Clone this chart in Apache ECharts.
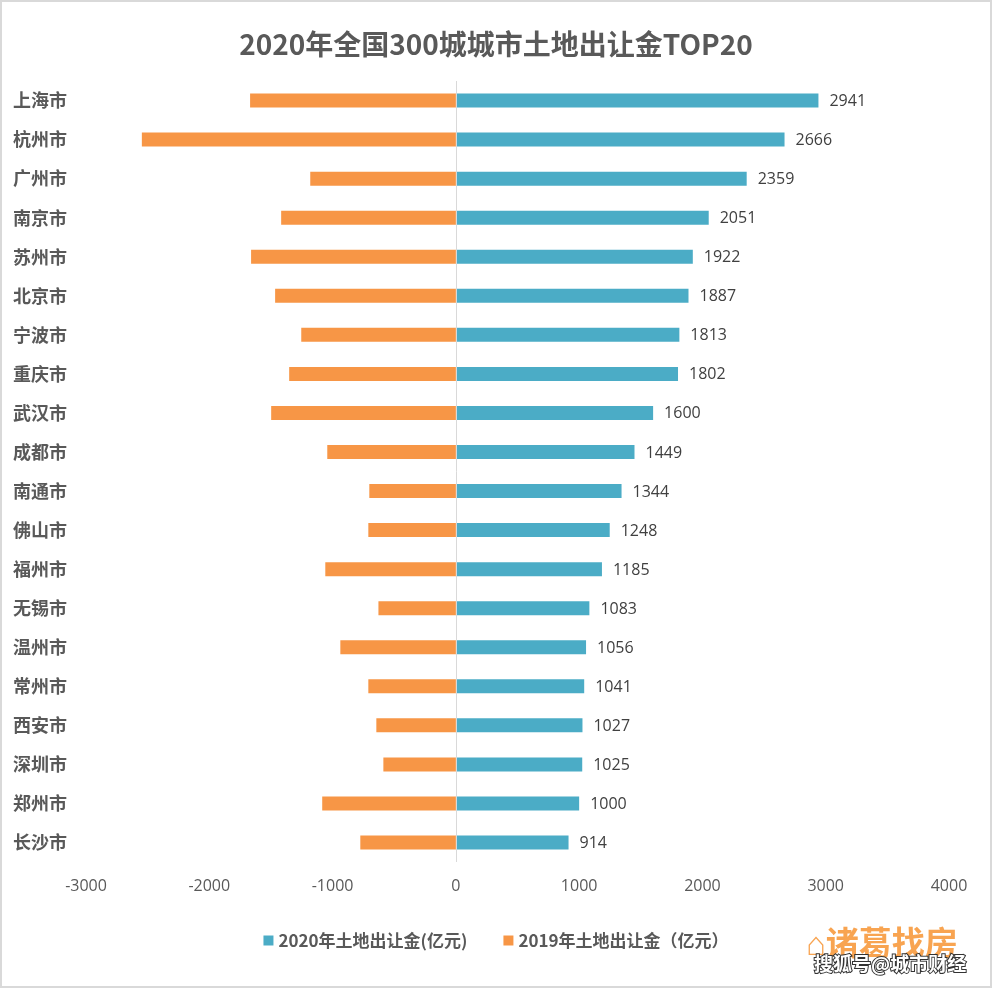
<!DOCTYPE html>
<html>
<head>
<meta charset="utf-8">
<script src="https://cdn.jsdelivr.net/npm/echarts@6/dist/echarts.min.js"></script>
<style>html,body{margin:0;padding:0;background:#fff}#c{width:992px;height:988px}</style>
</head>
<body>
<div id="c"></div>
<script>
var cities = ['上海市','杭州市','广州市','南京市','苏州市','北京市','宁波市','重庆市','武汉市','成都市','南通市','佛山市','福州市','无锡市','温州市','常州市','西安市','深圳市','郑州市','长沙市'];
var values2020 = [2941,2666,2359,2051,1922,1887,1813,1802,1600,1449,1344,1248,1185,1083,1056,1041,1027,1025,1000,914];
var values2019 = [1669,2547,1181,1417,1661,1466,1254,1352,1498,1043,702,710,1059,628,937,710,645,588,1084,775];
var xTicks = [-3000,-2000,-1000,0,1000,2000,3000,4000];
var seriesNames = ['2020年土地出让金(亿元)','2019年土地出让金（亿元）'];

var chart = echarts.init(document.getElementById('c'));
var sansCJK = '"Noto Sans CJK SC", "Open Sans", sans-serif';
chart.setOption({
  backgroundColor: '#fff',
  animation: false,
  title: {
    text: '2020年全国300城城市土地出让金TOP20',
    left: 'center', top: 25,
    textStyle: {fontFamily: sansCJK, fontSize: 28, fontWeight: 'bold', color: '#595959'}
  },
  legend: {
    bottom: 34, left: 'center',
    itemWidth: 10, itemHeight: 10, itemGap: 36,
    icon: 'rect',
    textStyle: {fontFamily: sansCJK, fontSize: 17, color: '#595959', fontWeight: 'bold'},
    data: seriesNames
  },
  grid: {left: 86, right: 43, top: 81, bottom: 126, containLabel: false},
  xAxis: {
    type: 'value', min: xTicks[0], max: xTicks[xTicks.length-1], interval: 1000,
    axisLine: {show: false}, axisTick: {show: false}, splitLine: {show: false},
    axisLabel: {color: '#595959', fontSize: 16, fontFamily: '"Open Sans", sans-serif', margin: 16,
      formatter: function(v){ return String(v); }}
  },
  yAxis: {
    type: 'category', data: cities, inverse: true,
    axisLine: {show: false}, axisTick: {show: false},
    axisLabel: {color: '#595959', fontSize: 18, fontWeight: 'bold', fontFamily: sansCJK, align: 'left', margin: 73}
  },
  series: [
    {
      name: seriesNames[0], type: 'bar', data: values2020, barWidth: 14, barGap: '-100%',
      itemStyle: {color: '#4bacc6'},
      label: {show: true, position: 'right', distance: 11, color: '#404040', fontSize: 16, fontFamily: '"Open Sans", sans-serif', offset: [0, 1]},
      markLine: {
        silent: true, symbol: 'none', animation: false,
        label: {show: false},
        lineStyle: {color: '#d9d9d9', type: 'solid', width: 1},
        data: [{xAxis: 0}]
      }
    },
    {
      name: seriesNames[1], type: 'bar', barWidth: 14,
      data: values2019.map(function(v){return -v;}),
      itemStyle: {color: '#f79646'}
    }
  ],
  graphic: [
    {type: 'rect', shape: {x: 1, y: 1, width: 990, height: 986}, style: {fill: 'none', stroke: '#d9d9d9', lineWidth: 2}, silent: true},
    {type: 'text', left: 806, top: 926, style: {text: '⌂诸葛找房', fill: '#f79a3e', font: 'bold 33px "Noto Sans CJK SC"', opacity: 0.9}, silent: true},
    {type: 'text', left: 813, top: 953, style: {text: '搜狐号@城市财经', fill: '#ffffff', stroke: '#333333', lineWidth: 2, font: 'bold 19px "Noto Sans CJK SC"'}, silent: true, z: 10}
  ]
});
</script>
</body>
</html>
